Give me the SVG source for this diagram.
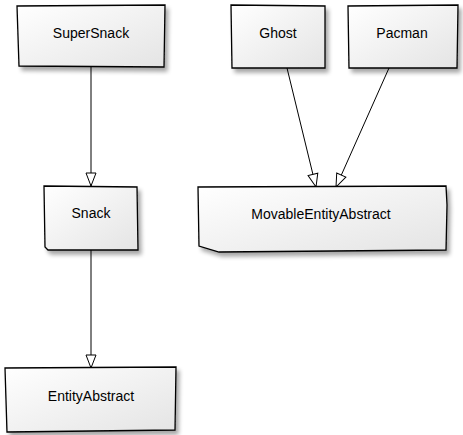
<svg xmlns="http://www.w3.org/2000/svg" width="463" height="435" viewBox="0 0 463 435">
<defs>
<linearGradient id="g" x1="0" y1="0" x2="1" y2="1">
<stop offset="0" stop-color="#ffffff"/>
<stop offset="1" stop-color="#e4e4e4"/>
</linearGradient>
<filter id="sh" x="-10%" y="-10%" width="130%" height="140%">
<feGaussianBlur in="SourceAlpha" stdDeviation="2"/>
<feOffset dx="3" dy="4" result="b"/>
<feComponentTransfer><feFuncA type="linear" slope="0.35"/></feComponentTransfer>
<feMerge><feMergeNode/><feMergeNode in="SourceGraphic"/></feMerge>
</filter>
<marker id="tri" markerWidth="16" markerHeight="12" refX="14" refY="6" orient="auto" markerUnits="userSpaceOnUse">
<path d="M1,1 L14,6 L1,11 Z" fill="#fff" stroke="#000" stroke-width="1"/>
</marker>
</defs>
<style>
.box{fill:url(#g);stroke:#000;stroke-width:1.3;filter:url(#sh)}
.lbl{font-family:"Liberation Sans",Arial,sans-serif;font-size:14px;fill:#000;text-anchor:middle;dominant-baseline:central}
.edge{fill:none;stroke:#000;stroke-width:1;marker-end:url(#tri)}
</style>
<g id="connectors">
<path class="edge" d="M91,67 L91,186"/>
<path class="edge" d="M91,250 L91,368"/>
<path class="edge" d="M287,68 L316,187"/>
<path class="edge" d="M389,68 L336,187"/>
</g>
<g id="SuperSnack">
<path class="box" d="M17,6 L165,5 L164,67 L19,66 Z"/>
<text class="lbl" x="91" y="33">SuperSnack</text>
</g>
<g id="Ghost">
<path class="box" d="M231,5 L325,6 L325,68 L232,68 Z"/>
<text class="lbl" x="278" y="33">Ghost</text>
</g>
<g id="Pacman">
<path class="box" d="M348,6 L458,5 L457,68 L349,68 Z"/>
<text class="lbl" x="402" y="33">Pacman</text>
</g>
<g id="MovableEntityAbstract">
<path class="box" d="M198,187 L446,186 L447,205 L446,250 L219,252 L199,246 Z"/>
<text class="lbl" x="321" y="214">MovableEntityAbstract</text>
</g>
<g id="Snack">
<path class="box" d="M44,186 L137,187 L138,250 L48,250 L45,247 Z"/>
<text class="lbl" x="91" y="213">Snack</text>
</g>
<g id="EntityAbstract">
<path class="box" d="M5,368 L176,367 L175,430 L7,432 Z"/>
<text class="lbl" x="91" y="396">EntityAbstract</text>
</g>
</svg>
